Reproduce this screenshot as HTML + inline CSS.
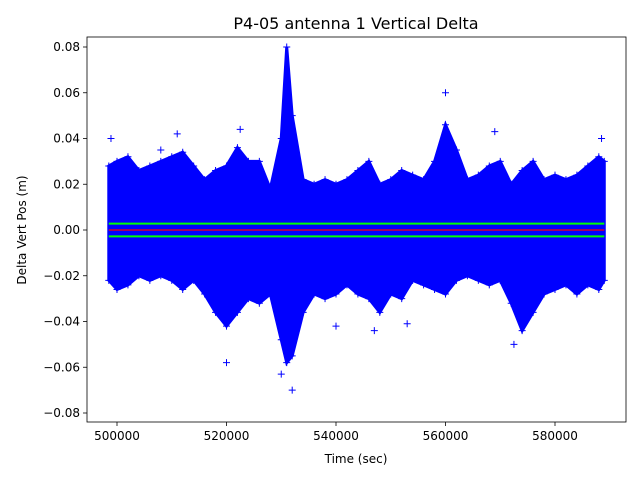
<!DOCTYPE html>
<html><head><meta charset="utf-8"><style>
body{margin:0;background:#fff;font-family:"Liberation Sans","DejaVu Sans",sans-serif}
svg text{font-family:"DejaVu Sans","Liberation Sans",sans-serif}
</style></head><body>
<svg id="chart" width="640" height="480" xmlns="http://www.w3.org/2000/svg">
<rect width="640" height="480" fill="#fff"/>
<g id="plot"></g>
<rect x="87" y="37" width="539" height="385" fill="none" stroke="#000" stroke-width="0.8"/>
<g id="xt"></g>
<g id="yt"></g>
<text x="356" y="29" text-anchor="middle" font-size="16">P4-05 antenna 1 Vertical Delta</text>
<text x="356" y="463" text-anchor="middle" font-size="12">Time (sec)</text>
<text transform="translate(26,230) rotate(-90)" text-anchor="middle" font-size="12">Delta Vert Pos (m)</text>
</svg>
<script>
const times=[498500,500000,502000,504000,506000,508000,510000,512000,514000,516000,518000,520000,522000,524000,526000,528000,530000,531000,532000,534000,536000,538000,540000,542000,544000,546000,548000,550000,552000,554000,556000,558000,560000,562000,564000,566000,568000,570000,572000,574000,576000,578000,580000,582000,584000,586000,588000,589000];
const upper=[0.028,0.030,0.032,0.026,0.028,0.030,0.032,0.034,0.028,0.022,0.026,0.028,0.036,0.030,0.030,0.018,0.040,0.080,0.050,0.022,0.020,0.022,0.020,0.022,0.026,0.030,0.020,0.022,0.026,0.024,0.022,0.030,0.046,0.035,0.022,0.024,0.028,0.030,0.020,0.026,0.030,0.022,0.024,0.022,0.024,0.028,0.032,0.030];
const lower=[-0.022,-0.026,-0.024,-0.020,-0.022,-0.020,-0.022,-0.026,-0.022,-0.028,-0.036,-0.042,-0.036,-0.030,-0.032,-0.028,-0.048,-0.058,-0.055,-0.036,-0.028,-0.030,-0.028,-0.024,-0.028,-0.030,-0.036,-0.028,-0.030,-0.022,-0.024,-0.026,-0.028,-0.022,-0.020,-0.022,-0.024,-0.022,-0.032,-0.044,-0.036,-0.028,-0.026,-0.024,-0.028,-0.024,-0.026,-0.022];
const outT=[498900,511000,522500,560000,569000,530000,532000,540000,547000,520000,572500,588500,508000,553000];
const outV=[0.040,0.042,0.044,0.060,0.043,-0.063,-0.070,-0.042,-0.044,-0.058,-0.050,0.040,0.035,-0.041];
const sigma=0.0028;
const xTicks=[500000,520000,540000,560000,580000];
const yTicks=[-0.08,-0.06,-0.04,-0.02,0.00,0.02,0.04,0.06,0.08];
const yLabels=["\u22120.08","\u22120.06","\u22120.04","\u22120.02","0.00","0.02","0.04","0.06","0.08"];
const X=t=>117+(t-500000)*(555-117)/80000;
const Y=v=>230-v*(230-47)/0.08;
const NS="http://www.w3.org/2000/svg";
const plot=document.getElementById('plot');
function mk(tag,attrs,parent){const e=document.createElementNS(NS,tag);for(const k in attrs)e.setAttribute(k,attrs[k]);parent.appendChild(e);return e;}
let pts=times.map((t,i)=>X(t)+','+Y(upper[i]));
for(let i=times.length-1;i>=0;i--)pts.push(X(times[i])+','+Y(lower[i]));
const env=mk('polygon',{points:pts.join(' '),fill:'#0000ff',stroke:'#0000ff','stroke-width':3},plot);


function plus(x,y,name){const g=mk('path',{d:`M${x-3.5},${y}h7M${x},${y-3.5}v7`,stroke:'#0000ff','stroke-width':1},plot);}
times.forEach((t,i)=>{plus(X(t),Y(upper[i]),'data-point');plus(X(t),Y(lower[i]),'data-point');});
outT.forEach((t,i)=>plus(X(t),Y(outV[i]),'outlier-point'));
const x0=X(times[0]),x1=X(times[times.length-1]);
const gu=mk('line',{x1:x0,x2:x1,y1:Y(sigma),y2:Y(sigma),stroke:'#00ff00','stroke-width':2},plot);

const gl=mk('line',{x1:x0,x2:x1,y1:Y(-sigma),y2:Y(-sigma),stroke:'#00ff00','stroke-width':2},plot);

const rl=mk('line',{x1:x0,x2:x1,y1:Y(0),y2:Y(0),stroke:'#ff0000','stroke-width':1.2},plot);

const xt=document.getElementById('xt'),yt=document.getElementById('yt');
xTicks.forEach(t=>{mk('line',{x1:X(t),x2:X(t),y1:422,y2:426,stroke:'#000','stroke-width':0.8},xt);const tx=mk('text',{x:X(t),y:440,'text-anchor':'middle','font-size':12},xt);tx.textContent=t;});
yTicks.forEach((v,i)=>{mk('line',{x1:83,x2:87,y1:Y(v),y2:Y(v),stroke:'#000','stroke-width':0.8},yt);const tx=mk('text',{x:80,y:Y(v)+4,'text-anchor':'end','font-size':12},yt);tx.textContent=yLabels[i];});
</script>
</body></html>
